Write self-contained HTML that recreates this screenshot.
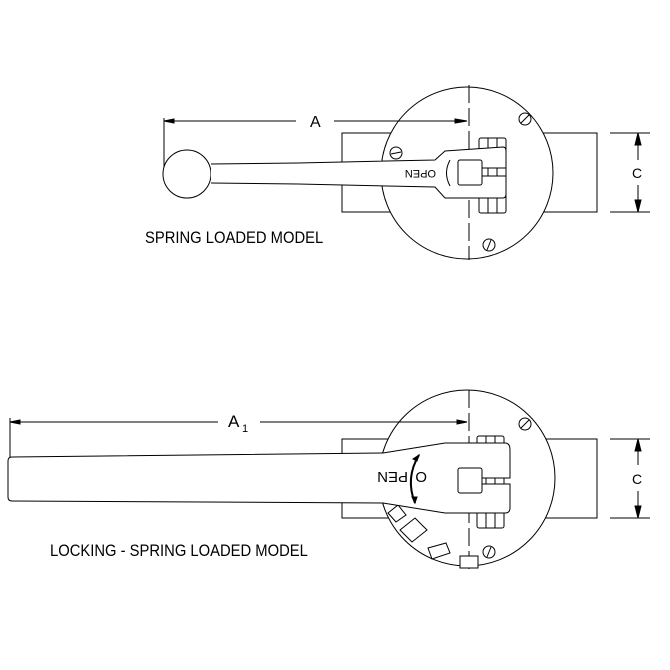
<!DOCTYPE html>
<html><head><style>body{margin:0;background:#fff}svg{display:block}text{font-family:"Liberation Sans",sans-serif}</style></head>
<body>
<svg width="670" height="670" viewBox="0 0 670 670" fill="none" stroke="#000" stroke-width="1">
<!-- TOP -->
<rect x="342" y="133" width="255" height="79" fill="#fff"/>
<circle cx="467" cy="173" r="86" fill="#fff"/>
<line x1="469" y1="85" x2="469" y2="260" stroke-dasharray="18,5"/>
<line x1="164" y1="118" x2="164" y2="170"/>
<line x1="164" y1="121" x2="296" y2="121"/>
<line x1="334" y1="121" x2="467" y2="121"/>
<path d="M164 121 l10 -2 v4z M467 121 l-12 -2 v4z" fill="#000"/>
<text x="310" y="127" font-size="16" fill="#000" stroke="none">A</text>
<rect x="479" y="138" width="27" height="75" rx="2" fill="#fff"/>
<line x1="488" y1="138" x2="488" y2="213"/><line x1="497" y1="138" x2="497" y2="213"/>
<circle cx="187" cy="174" r="24" fill="#fff"/>
<path d="M211 164 L298 163 L435 160 L445 151 L503 147 Q506 147 506 151 L506 168 L482 168 L482 176 L506 176 L506 194 Q506 198 503 198 L445 198 L435 187 L298 184 L211 183" fill="#fff"/>
<rect x="458" y="160" width="24" height="25" rx="2" fill="#fff"/>
<path d="M450 160 Q443 173 450 186"/>
<text x="0" y="0" font-size="11" fill="#000" stroke="none" transform="translate(436,170) rotate(180)">OPEN</text>
<circle cx="396" cy="153" r="6" fill="#fff"/><line x1="391" y1="154" x2="401" y2="152"/>
<circle cx="525" cy="119" r="6" fill="#fff"/><line x1="521" y1="123" x2="529" y2="115"/>
<circle cx="489" cy="245" r="6" fill="#fff"/><line x1="487" y1="250" x2="491" y2="240"/>
<line x1="610" y1="133" x2="650" y2="133"/><line x1="610" y1="212" x2="650" y2="212"/>
<line x1="638" y1="133" x2="638" y2="160"/><line x1="638" y1="185" x2="638" y2="212"/>
<path d="M638 133 l-3 12 h6z M638 212 l-3 -12 h6z" fill="#000"/>
<text x="632" y="178" font-size="14" fill="#000" stroke="none">C</text>
<text x="145" y="243" font-size="17" fill="#000" stroke="none" transform="translate(145,0) scale(0.87,1) translate(-145,0)">SPRING LOADED MODEL</text>

<!-- BOTTOM -->
<rect x="342" y="439" width="255" height="79" fill="#fff"/>
<circle cx="467" cy="478" r="88" fill="#fff"/>
<line x1="469" y1="390" x2="469" y2="572" stroke-dasharray="18,5"/>
<path d="M388 513 l10 -8 l8 10 l-10 7z M400 530 l15 -12 l12 12 l-15 12z M428 548 l18 -5 l4 10 l-18 6z M460 556 h18 v12 h-18z" fill="#fff"/>
<line x1="10" y1="418" x2="10" y2="458"/>
<line x1="10" y1="422" x2="218" y2="422"/>
<line x1="260" y1="422" x2="467" y2="422"/>
<path d="M10 422 l10 -2 v4z M467 422 l-10 -2 v4z" fill="#000"/>
<text x="228" y="427" font-size="17" fill="#000" stroke="none">A</text>
<text x="242" y="432" font-size="11" fill="#000" stroke="none">1</text>
<rect x="477" y="436" width="27" height="92" rx="2" fill="#fff"/>
<line x1="486" y1="436" x2="486" y2="528"/><line x1="495" y1="436" x2="495" y2="528"/>
<path d="M12 457 L383 453 L445 443 L505 443 Q510 443 510 450 L510 478 L482 478 L482 484 L510 484 L510 508 Q510 513 505 513 L445 513 L383 503 L12 501 Q8 501 8 497 L8 461 Q8 457 12 457z" fill="#fff"/>
<rect x="458" y="468" width="24" height="25" rx="2" fill="#fff"/>
<path d="M419 455 Q405 478 415 503" stroke-width="2"/>
<path d="M419 455 l-6 4 l4 2z M415 503 l-3 -6 l5 0z" fill="#000"/>
<text x="0" y="0" font-size="15" fill="#000" stroke="none" transform="translate(408,472) rotate(180)">PEN</text>
<text x="0" y="0" font-size="15" fill="#000" stroke="none" transform="translate(427,472) rotate(180)">O</text>
<circle cx="525" cy="424" r="6" fill="#fff"/><line x1="521" y1="428" x2="529" y2="420"/>
<circle cx="489" cy="552" r="6" fill="#fff"/><line x1="487" y1="557" x2="491" y2="547"/>
<line x1="610" y1="439" x2="650" y2="439"/><line x1="610" y1="518" x2="650" y2="518"/>
<line x1="638" y1="439" x2="638" y2="465"/><line x1="638" y1="491" x2="638" y2="518"/>
<path d="M638 439 l-3 12 h6z M638 518 l-3 -12 h6z" fill="#000"/>
<text x="632" y="484" font-size="14" fill="#000" stroke="none">C</text>
<text x="50" y="556" font-size="17" fill="#000" stroke="none" transform="translate(50,0) scale(0.87,1) translate(-50,0)">LOCKING - SPRING LOADED MODEL</text>
</svg>
</body></html>
